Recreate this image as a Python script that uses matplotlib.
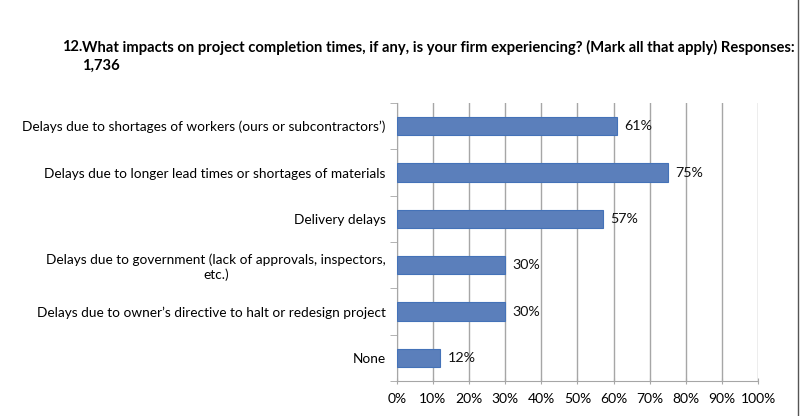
import matplotlib
matplotlib.use("Agg")
import matplotlib.pyplot as plt
from matplotlib.lines import Line2D

categories = [
    "Delays due to shortages of workers (ours or subcontractors\u2019)",
    "Delays due to longer lead times or shortages of materials",
    "Delivery delays",
    "Delays due to government (lack of approvals, inspectors,\netc.)",
    "Delays due to owner\u2019s directive to halt or redesign project",
    "None",
]
values = [61, 75, 57, 30, 30, 12]
xticks = list(range(0, 101, 10))
xtick_labels = [f"{v}%" for v in xticks]

BAR = "#5b7fbb"
EDGE = "#4472b8"
GRID = "#a6a6a6"

plt.rcParams["font.family"] = ["Lato", "DejaVu Sans"]

fig = plt.figure(figsize=(8.0, 4.16), dpi=100)
ax = fig.add_axes([0.496, 0.0841, 0.4515, 0.6683])

ypos = list(range(len(categories)))
ax.barh(ypos, values, height=0.39, color=BAR, edgecolor=EDGE, linewidth=0.8, zorder=3)
for y, v in zip(ypos, values):
    ax.text(v + 2.0, y, f"{v}%", va="center", ha="left", fontsize=10.3, color="#111111")

ax.set_xlim(0, 100)
ax.set_ylim(len(categories) - 0.5, -0.5)
ax.set_xticks(xticks)
ax.set_xticklabels(xtick_labels, fontsize=10)
ax.set_yticks(ypos)
ax.set_yticklabels(categories, fontsize=9.8, ha="right", multialignment="center")
ax.tick_params(axis="y", length=0, pad=8)
ax.set_yticks([i - 0.5 for i in range(len(categories) + 1)], minor=True)
ax.tick_params(axis="y", which="minor", length=5, color=GRID, direction="out")
ax.tick_params(axis="x", length=5, color=GRID, direction="inout", pad=6)
ax.grid(axis="x", color=GRID, linewidth=1.0, zorder=0)
for s in ("top", "right"):
    ax.spines[s].set_visible(False)
for s in ("left", "bottom"):
    ax.spines[s].set_color(GRID)

fig.text(0.078, 0.887, "12.", fontsize=10.5, fontweight="bold", ha="left", va="center")
fig.text(0.1025, 0.887,
         "What impacts on project completion times, if any, is your firm experiencing? (Mark all that apply) Responses:",
         fontsize=10.6, fontweight="bold", ha="left", va="center")
fig.text(0.1025, 0.843, "1,736", fontsize=10.6, fontweight="bold", ha="left", va="center")

fig.add_artist(Line2D([0.997, 0.997], [0, 1], transform=fig.transFigure, color="#555555", linewidth=1))

fig.savefig("out.png", dpi=100)
